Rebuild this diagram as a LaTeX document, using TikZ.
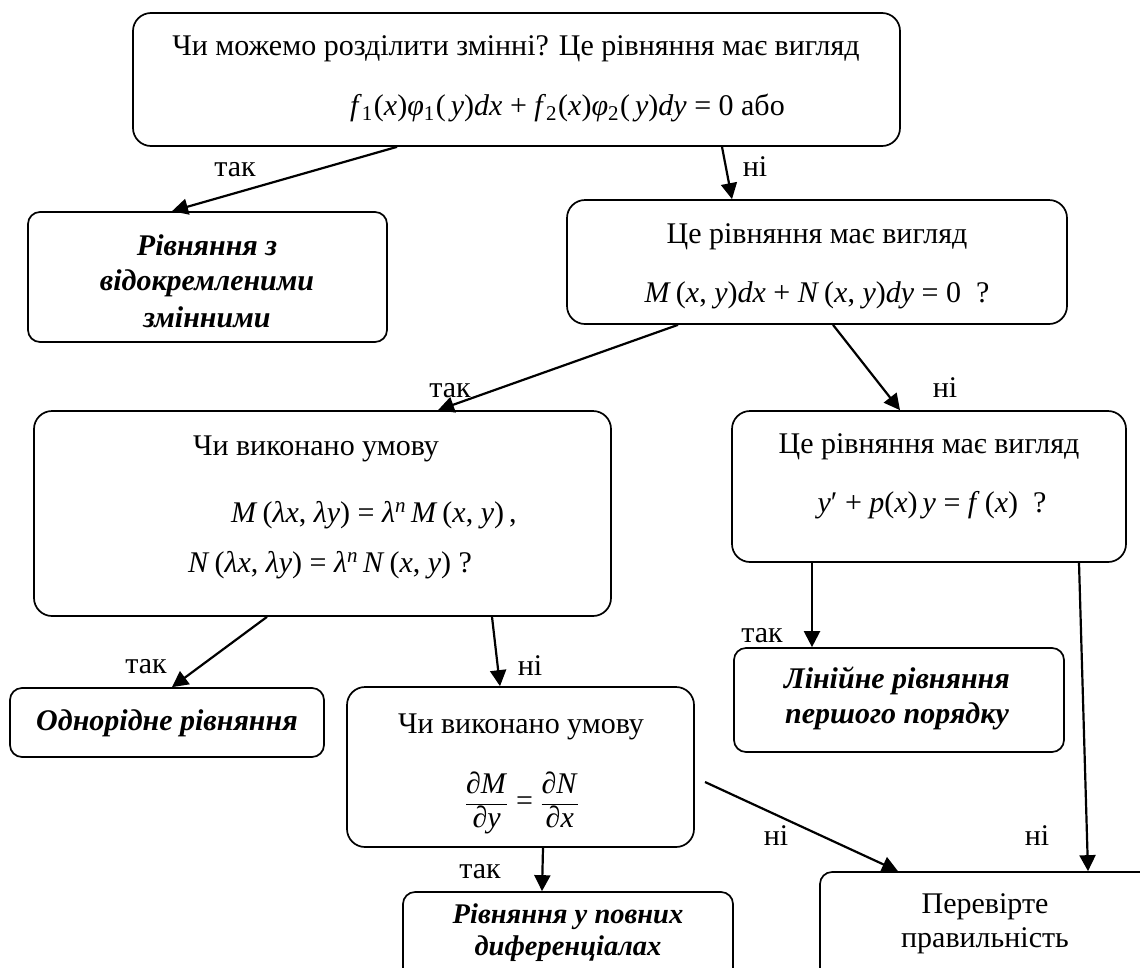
\documentclass[tikz,border=0pt]{standalone}
\usepackage{fontspec}
\setmainfont{Liberation Serif}
\usetikzlibrary{arrows.meta}
\newcommand{\I}[1]{\textit{#1}}
\begin{document}
\begin{tikzpicture}[x=1pt,y=-1pt,
  font=\fontsize{30}{34}\selectfont,
  qbox/.style={draw, line width=1.7pt, rounded corners=18pt, inner sep=0pt},
  rbox/.style={draw, line width=1.7pt, rounded corners=12pt, inner sep=0pt},
  arr/.style={line width=2.2pt, -{Triangle[length=16pt,width=16pt]}},
  lbl/.style={anchor=base, inner sep=0pt},
  res/.style={anchor=base, inner sep=0pt, font=\fontsize{30}{34}\selectfont\bfseries\itshape}]
\useasboundingbox (0,0) rectangle (1140,967);
\clip (0,0) rectangle (1140,967);
% boxes
\node[qbox, minimum width=767pt, minimum height=133pt] (A) at (516.5,79.5) {};
\node[rbox, minimum width=359pt, minimum height=130pt] (B) at (207.5,277) {};
\node[qbox, minimum width=500pt, minimum height=124pt] (C) at (817,262) {};
\node[qbox, minimum width=577pt, minimum height=205pt] (D) at (322.5,513.5) {};
\node[qbox, minimum width=394pt, minimum height=151pt] (E) at (929,486.5) {};
\node[rbox, minimum width=330pt, minimum height=104pt] (F) at (899,700) {};
\node[rbox, minimum width=314pt, minimum height=69pt] (G) at (167,722.5) {};
\node[qbox, minimum width=347pt, minimum height=160pt] (H) at (520.5,767) {};
\node[rbox, minimum width=330pt, minimum height=93pt] (I) at (568,938.5) {};
\node[rbox, minimum width=350pt, minimum height=128pt] (J) at (995,936) {};
% texts
\node[lbl] (a1) at (516,55) {Чи можемо розділити змінні? Це рівняння має вигляд};
\node[lbl, anchor=base west] (a2) at (350,115) {\I{f}\textsubscript{1}\kern1pt(\I{x})\I{φ}\textsubscript{1}\kern1pt(\,\I{y})\I{dx} + \I{f}\textsubscript{2}\kern1pt(\I{x})\I{φ}\textsubscript{2}\kern1pt(\,\I{y})\I{dy} = 0 або};
\node[res] (b1) at (207,255) {Рівняння з};
\node[res] (b2) at (207,290) {відокремленими};
\node[res] (b3) at (207,327) {змінними};
\node[lbl] (c1) at (817,243) {Це рівняння має вигляд};
\node[lbl] (c2) at (817,302) {\I{M}\,(\I{x}, \I{y})\I{dx} + \I{N}\,(\I{x}, \I{y})\I{dy} = 0\ \ ?};
\node[lbl] (d1) at (316,455) {Чи виконано умову};
\node[lbl, anchor=base west] (d2) at (231,522) {\I{M}\,(\I{λx}, \I{λy}) = \I{λ}\textsuperscript{\I{n}}\,\I{M}\,(\I{x}, \I{y})\,,};
\node[lbl, anchor=base west] (d3) at (188,572) {\I{N}\,(\I{λx}, \I{λy}) = \I{λ}\textsuperscript{\I{n}}\,\I{N}\,(\I{x}, \I{y}) ?};
\node[lbl] (e1) at (929,453) {Це рівняння має вигляд};
\node[lbl] (e2) at (932,512) {\I{y}′ + \I{p}(\I{x})\,\I{y} = \I{f}\,(\I{x})\ \ ?};
\node[res] (f1) at (897,688) {Лінійне рівняння};
\node[res] (f2) at (897,723) {першого порядку};
\node[res] (g1) at (167,730) {Однорідне рівняння};
\node[lbl] (h1) at (521,733) {Чи виконано умову};
\node[lbl] (h2) at (522,810) {$\displaystyle\frac{\mbox{\I{∂M}}}{\mbox{\I{∂y}}}\mbox{ = }\frac{\mbox{\I{∂N}}}{\mbox{\I{∂x}}}$};
\node[res, font=\fontsize{28.5}{32}\selectfont\bfseries\itshape] (i1) at (568,923) {Рівняння у повних};
\node[res, font=\fontsize{28.5}{32}\selectfont\bfseries\itshape] (i2) at (568,955) {диференціалах};
\node[lbl] (j1) at (985,913) {Перевірте};
\node[lbl] (j2) at (985,947) {правильність};
% labels
\node[lbl] (l1) at (235,176) {так};
\node[lbl] (l2) at (755,176) {ні};
\node[lbl] (l3) at (450,397) {так};
\node[lbl] (l4) at (945,397) {ні};
\node[lbl] (l5) at (146,673) {так};
\node[lbl] (l6) at (530,675) {ні};
\node[lbl] (l7) at (762,642) {так};
\node[lbl] (l8) at (1037,845) {ні};
\node[lbl] (l9) at (776,845) {ні};
\node[lbl] (l10) at (480,878) {так};
% connectors
\coordinate (hs) at (705,782);
\draw[arr] ([xshift=-119.5pt]A.south) -- ([xshift=-35.5pt]B.north);
\draw[arr] ([xshift=205.5pt]A.south) -- ([xshift=-85pt]C.north);
\draw[arr] ([xshift=-139pt]C.south) -- ([xshift=115.5pt]D.north);
\draw[arr] ([xshift=16pt]C.south) -- ([xshift=-29pt]E.north);
\draw[arr] ([xshift=-55.5pt]D.south) -- ([xshift=5pt]G.north);
\draw[arr] ([xshift=169.5pt]D.south) -- ([xshift=-20.5pt]H.north);
\draw[arr] ([xshift=-117pt]E.south) -- ([xshift=-87pt]F.north);
\draw[arr] ([xshift=150pt]E.south) -- ([xshift=93pt]J.north);
\draw[arr] (hs) -- ([xshift=-97pt]J.north);
\draw[arr] ([xshift=22.5pt]H.south) -- ([xshift=-26pt]I.north);
\end{tikzpicture}
\end{document}
